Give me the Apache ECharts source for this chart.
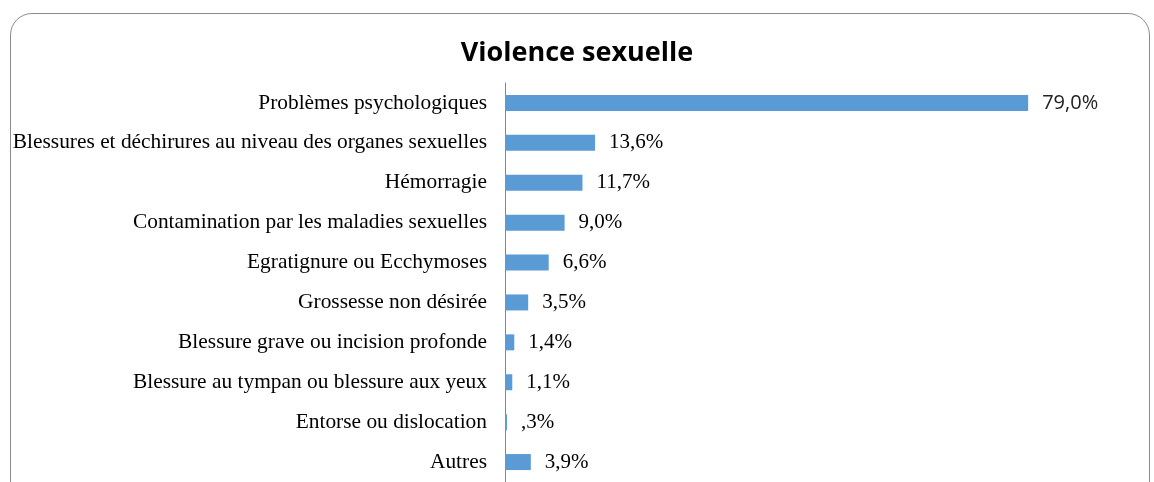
<!DOCTYPE html>
<html>
<head>
<meta charset="utf-8">
<script src="https://cdn.jsdelivr.net/npm/echarts@6/dist/echarts.min.js"></script>
<style>
	html, body { margin: 0; padding: 0; background: #fff; }
	#frame {
		position: absolute; left: 10px; top: 13px; width: 1140px; height: 490px;
		border: 1px solid #8c8c8c; border-radius: 22px; box-sizing: border-box;
	}
	#main { position: absolute; left: 0; top: 0; width: 1154px; height: 482px; }
</style>
</head>
<body>
<div id="frame"></div>
<div id="main"></div>
<script>
const categories = [
	'Problèmes psychologiques',
	'Blessures et déchirures au niveau des organes sexuelles',
	'Hémorragie',
	'Contamination par les maladies sexuelles',
	'Egratignure ou Ecchymoses',
	'Grossesse non désirée',
	'Blessure grave ou incision profonde',
	'Blessure au tympan ou blessure aux yeux',
	'Entorse ou dislocation',
	'Autres'
]
const values = [79.0, 13.6, 11.7, 9.0, 6.6, 3.5, 1.4, 1.1, 0.3, 3.9]

const fmt = v => v.toFixed(1).replace('.', ',').replace(/^0/, '') + '%'

const myChart = echarts.init(document.getElementById('main'))
const option = {
	title: {
		text: 'Violence sexuelle',
		left: 'center',
		top: 35,
		textStyle: { fontFamily: 'Open Sans', fontWeight: 'bold', fontSize: 27, color: '#000' }
	},
	grid: { left: 505, right: 53, top: 83, bottom: 0, containLabel: false },
	xAxis: {
		type: 'value',
		min: 0,
		max: 90,
		show: false
	},
	yAxis: {
		type: 'category',
		inverse: true,
		data: categories,
		axisLine: { lineStyle: { color: '#868686', width: 1 } },
		axisTick: { show: false },
		axisLabel: {
			margin: 18,
			fontFamily: 'Liberation Serif',
			fontSize: 21.4,
			color: '#000',
			padding: [3, 0, 0, 0]
		}
	},
	series: [
		{
			type: 'bar',
			barWidth: 16,
			itemStyle: { color: '#5b9bd5' },
			label: {
				show: true,
				position: 'right',
				distance: 14,
				fontFamily: 'Liberation Serif',
				fontSize: 21,
				color: '#000',
				padding: [3, 0, 0, 0],
				formatter: p => fmt(p.value)
			},
			data: values.map((v, i) => i === 0
				? { value: v, label: { fontFamily: 'Open Sans', fontSize: 20, color: '#222' } }
				: v),
			animation: false
		}
	]
}
myChart.setOption(option)
</script>
</body>
</html>
